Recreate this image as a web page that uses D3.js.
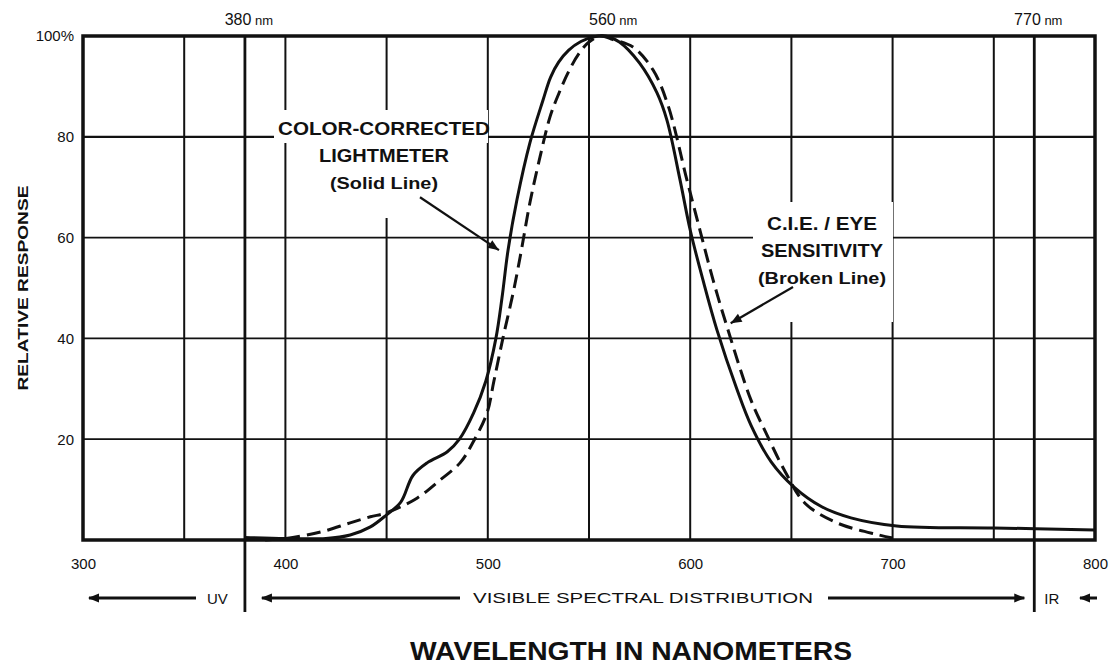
<!DOCTYPE html>
<html><head><meta charset="utf-8">
<script src="https://cdn.jsdelivr.net/npm/d3@7"></script>
<style>
body{margin:0;background:#fff}
text{font-family:"Liberation Sans",Arial,Helvetica,sans-serif;fill:#111}
</style></head>
<body><svg id="c" width="1116" height="667"></svg>
<script>
// ---- data ----
const xTicks = [300, 400, 500, 600, 700, 800];
const xGrid = [300, 350, 400, 450, 500, 550, 600, 650, 700, 750, 800];
const yTicks = [20, 40, 60, 80, 100];
const yTickLabels = ["20", "40", "60", "80", "100%"];
const markerNm = [380, 560, 770];
const markerLabels = ["380", "560", "770"];
const boldMarkers = [380, 770];

const solidNm  = [380, 400, 420, 432, 442, 450, 457, 463, 470, 480, 486, 493, 499, 504, 507, 510, 514.4, 520.8, 527.3, 531, 535, 540, 546, 552, 558, 565, 575, 583.6, 588.5, 595, 600, 606.3, 613.2, 623, 630, 640, 651.3, 665, 679.4, 702, 750, 800];
const solidPct = [0.5, 0.3, 0.3, 1.0, 2.6, 5.0, 7.5, 12.8, 15.3, 17.5, 20, 25.2, 31.5, 40, 48, 57.5, 67.5, 78.8, 87.3, 91.8, 94.8, 97.2, 98.9, 99.8, 100, 98.8, 94.6, 88.7, 83.3, 71.4, 61.5, 51.6, 41.7, 30, 22.8, 15.5, 10.5, 6.6, 4.4, 2.8, 2.4, 2.0];

const brokenNm  = [390, 400, 417.6, 432, 442, 450, 465, 476.4, 486.3, 492.7, 499.6, 503, 507.5, 512.5, 516, 520.8, 525.8, 530.7, 535, 540, 545, 550, 556, 561, 571.7, 581.6, 589, 598.4, 604.8, 611.3, 618.2, 630, 637.5, 647, 656.7, 672.5, 693.3, 700];
const brokenPct = [0, 0.3, 1.6, 3.4, 4.6, 5.4, 8.3, 11.9, 15.3, 19.4, 25.2, 31.5, 40.1, 49, 56.2, 66.9, 76, 83.9, 88.5, 93, 96.5, 98.8, 100, 99.4, 97.8, 93.3, 86.3, 71.4, 61.5, 51.6, 42.3, 27.8, 21.2, 13.5, 7.3, 3.4, 1.0, 0.4];

const solidNote = ["COLOR-CORRECTED", "LIGHTMETER", "(Solid Line)"];
const brokenNote = ["C.I.E. / EYE", "SENSITIVITY", "(Broken Line)"];

// ---- drawing ----
const svg = d3.select("#c");
const x = d3.scaleLinear().domain([300, 800]).range([83, 1095]);
const y = d3.scaleLinear().domain([0, 100]).range([540, 36]);
const ink = "#111";

// horizontal grid
svg.append("g").selectAll("line").data(yTicks.filter(d => d < 100)).join("line")
  .attr("x1", x(300)).attr("x2", x(800)).attr("y1", d => y(d)).attr("y2", d => y(d))
  .attr("stroke", ink).attr("stroke-width", d => d === 80 ? 2.2 : 1.8);

// vertical grid
svg.append("g").selectAll("line").data(xGrid.filter(d => d > 300 && d < 800)).join("line")
  .attr("x1", d => x(d)).attr("x2", d => x(d)).attr("y1", y(0)).attr("y2", y(100))
  .attr("stroke", ink).attr("stroke-width", 2);

// bold boundary markers (extend below axis)
svg.append("g").selectAll("line").data(boldMarkers).join("line")
  .attr("x1", d => x(d)).attr("x2", d => x(d)).attr("y1", y(100)).attr("y2", 612)
  .attr("stroke", ink).attr("stroke-width", 2.8);

// white boxes behind annotations (break the grid)
const boxes = svg.append("g").attr("fill", "#fff");
boxes.append("rect").attr("x", 274).attr("y", 110).attr("width", 214).attr("height", 33);
boxes.append("rect").attr("x", 300).attr("y", 143).attr("width", 180).attr("height", 75);
boxes.append("rect").attr("x", 753).attr("y", 202).attr("width", 140).attr("height", 120);

// frame
svg.append("rect").attr("x", x(300)).attr("y", y(100)).attr("width", x(800) - x(300)).attr("height", y(0) - y(100))
  .attr("fill", "none").attr("stroke", ink).attr("stroke-width", 3.5);

// curves
const line = d3.line().x(d => x(d[0])).y(d => y(d[1])).curve(d3.curveCatmullRom.alpha(0.5));
svg.append("path").datum(d3.zip(solidNm, solidPct)).attr("d", line)
  .attr("fill", "none").attr("stroke", ink).attr("stroke-width", 3).attr("stroke-linejoin", "round");
svg.append("path").datum(d3.zip(brokenNm, brokenPct)).attr("d", line)
  .attr("fill", "none").attr("stroke", ink).attr("stroke-width", 3).attr("stroke-dasharray", "14,7");

// axes
const ax = svg.append("g").attr("transform", `translate(0,${y(0)})`)
  .call(d3.axisBottom(x).tickValues(xTicks).tickSize(0).tickPadding(18).tickFormat(d3.format("d")));
ax.select(".domain").remove();
ax.selectAll("text").attr("font-size", 15).attr("fill", ink).style("font-family", "Liberation Sans");

const ay = svg.append("g").attr("transform", `translate(${x(300)},0)`)
  .call(d3.axisLeft(y).tickValues(yTicks).tickSize(0).tickPadding(9).tickFormat((d, i) => yTickLabels[i]));
ay.select(".domain").remove();
ay.selectAll("text").attr("font-size", 15).attr("fill", ink).style("font-family", "Liberation Sans");

// top marker labels
const mk = svg.append("g").selectAll("text").data(markerNm).join("text")
  .attr("x", d => x(d) + 4).attr("y", 25).attr("text-anchor", "middle");
mk.append("tspan").attr("font-size", 16).text((d, i) => markerLabels[i]);
mk.append("tspan").attr("font-size", 13).text(" nm");

// axis titles
svg.append("text").attr("transform", `translate(28,${y(50)}) rotate(-90)`)
  .attr("text-anchor", "middle").attr("font-size", 15).attr("font-weight", "bold")
  .attr("textLength", 205).attr("lengthAdjust", "spacingAndGlyphs").text("RELATIVE RESPONSE");

svg.append("text").attr("x", 631).attr("y", 660).attr("text-anchor", "middle")
  .attr("font-size", 26).attr("font-weight", "bold")
  .attr("textLength", 442).attr("lengthAdjust", "spacingAndGlyphs").text("WAVELENGTH IN NANOMETERS");

// arrow helper
function arrowHead(g, tx, ty, angle) {
  const L = 11, Wd = 4.5;
  const c = Math.cos(angle), s = Math.sin(angle);
  const bx = tx - L * c, by = ty - L * s;
  g.append("path")
    .attr("d", `M${tx},${ty}L${bx - Wd * s},${by + Wd * c}L${bx + Wd * s},${by - Wd * c}Z`)
    .attr("fill", ink);
}
function hArrow(x1, x2, yy, headAt) {
  svg.append("line").attr("x1", x1).attr("x2", x2).attr("y1", yy).attr("y2", yy)
    .attr("stroke", ink).attr("stroke-width", 3);
  if (headAt === "left") arrowHead(svg, x1 - 1, yy, Math.PI);
  else arrowHead(svg, x2 + 1, yy, 0);
}

// region arrows below axis
const ry = 598;
hArrow(x(300) + 6, 196, ry, "left");
svg.append("text").attr("x", 207).attr("y", ry + 6).attr("font-size", 15).text("UV");
hArrow(x(380) + 17, 460, ry, "left");
svg.append("text").attr("x", 643).attr("y", ry + 5).attr("text-anchor", "middle").attr("font-size", 14)
  .attr("textLength", 340).attr("lengthAdjust", "spacingAndGlyphs").text("VISIBLE SPECTRAL DISTRIBUTION");
hArrow(828, x(770) - 10, ry, "right");
svg.append("text").attr("x", x(770) + 10).attr("y", ry + 6).attr("font-size", 15).text("IR");
hArrow(1080, 1097, ry, "left");

// annotations
function note(lines, cx, y0, widths) {
  const g = svg.append("g");
  lines.forEach((t, i) => {
    g.append("text").attr("x", cx).attr("y", y0 + i * 27).attr("text-anchor", "middle")
      .attr("font-size", i === 2 ? 17 : 18).attr("font-weight", "bold")
      .attr("textLength", widths[i]).attr("lengthAdjust", "spacingAndGlyphs").text(t);
  });
}
note(solidNote, 384, 135, [212, 130, 108]);
note(brokenNote, 822, 230, [110, 122, 128]);

function leader(x1, y1, x2, y2) {
  svg.append("line").attr("x1", x1).attr("y1", y1).attr("x2", x2).attr("y2", y2)
    .attr("stroke", ink).attr("stroke-width", 2.2);
  arrowHead(svg, x2, y2, Math.atan2(y2 - y1, x2 - x1));
}
leader(x(466.5), y(68), x(505.5), y(57.5));
leader(x(650.8), y(50.2), x(620), y(43));
</script></body></html>
